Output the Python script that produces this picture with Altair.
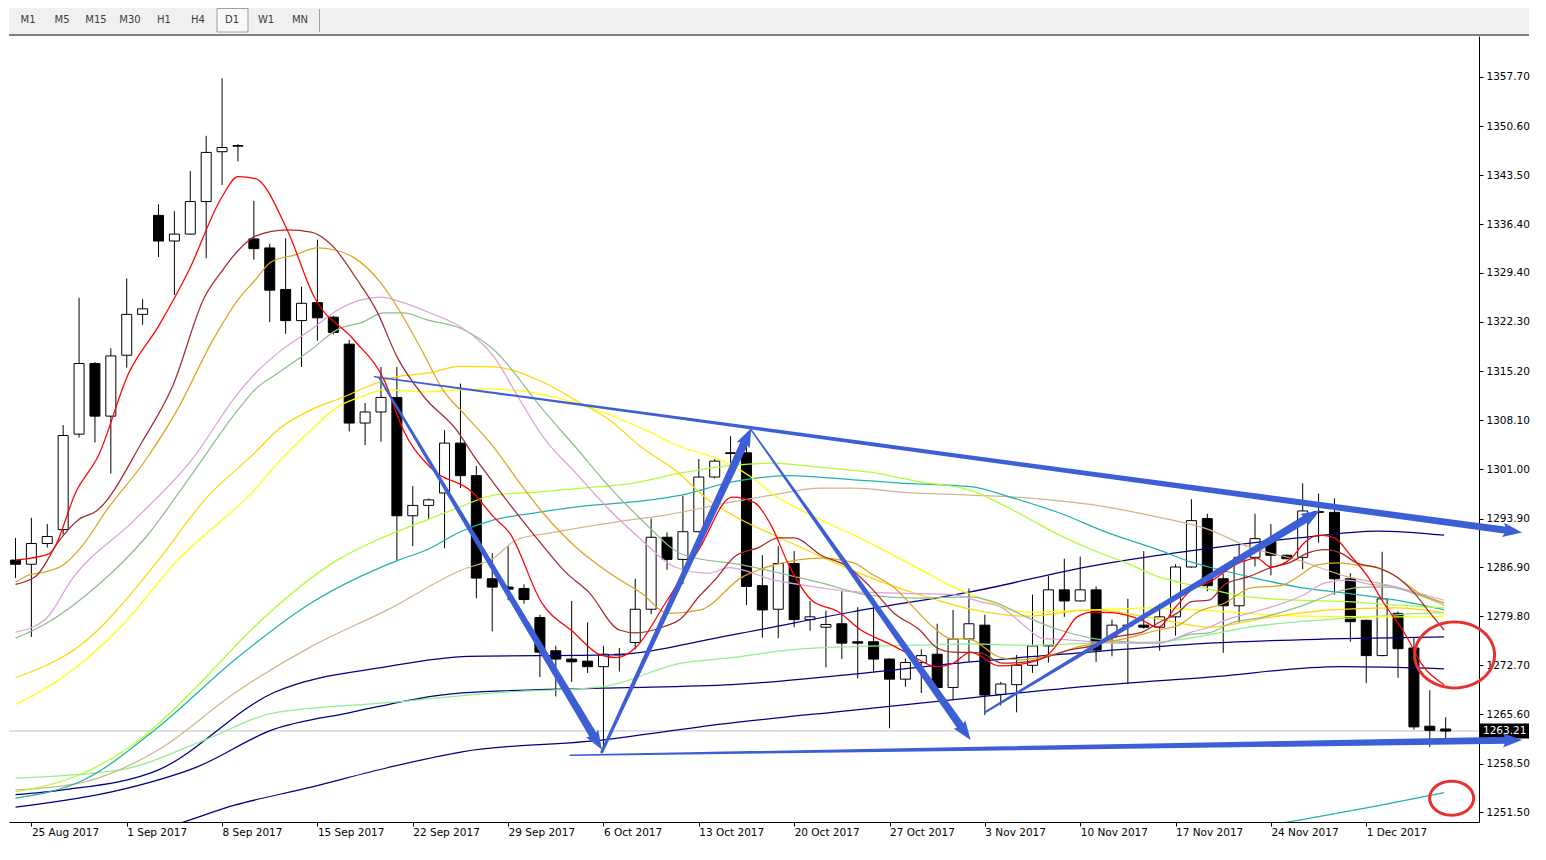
import json
import math
import altair as alt
import pandas as pd

# ---------------- data: daily candles (bar index 0..90) ----------------
opens = [1287.9, 1287.3, 1290.3, 1292.3, 1306.1, 1316.3, 1308.7, 1317.5, 1323.4, 1337.7,
         1334.0, 1335.0, 1339.7, 1346.9, 1347.8, 1334.3, 1333.0, 1327.0, 1322.5, 1325.1,
         1323.0, 1319.1, 1307.7, 1309.3, 1311.4, 1294.3, 1295.8, 1297.6, 1304.8, 1300.1,
         1285.2, 1284.0, 1283.8, 1279.6, 1274.8, 1273.6, 1273.3, 1272.5, 1274.3, 1276.0,
         1280.8, 1291.2, 1288.0, 1292.0, 1299.9, 1303.4, 1303.4, 1284.2, 1280.8, 1287.4,
         1279.3, 1278.2, 1278.7, 1276.1, 1276.1, 1273.6, 1270.7, 1273.1, 1274.3, 1269.5,
         1276.5, 1278.5, 1268.5, 1269.9, 1272.7, 1275.5, 1283.6, 1282.0, 1283.6, 1276.8,
         1278.4, 1278.5, 1278.2, 1279.7, 1286.9, 1293.9, 1285.2, 1281.3, 1288.3, 1290.7,
         1288.6, 1288.3, 1294.9, 1294.8, 1285.2, 1279.2, 1274.1, 1280.2, 1275.2, 1263.9,
         1263.5]
highs = [1291.1, 1294.0, 1293.1, 1307.4, 1325.8, 1316.5, 1318.5, 1328.6, 1325.6, 1339.3,
         1338.3, 1344.1, 1349.2, 1357.5, 1348.0, 1339.8, 1333.6, 1334.4, 1327.4, 1334.2,
         1323.2, 1319.7, 1310.6, 1315.8, 1315.8, 1298.6, 1296.8, 1306.7, 1313.4, 1301.5,
         1288.9, 1289.9, 1284.4, 1280.0, 1275.5, 1282.0, 1278.9, 1275.5, 1275.2, 1285.2,
         1293.9, 1291.9, 1297.2, 1302.5, 1302.5, 1305.8, 1304.5, 1288.6, 1289.9, 1289.2,
         1282.0, 1280.6, 1283.4, 1281.1, 1282.4, 1273.7, 1273.7, 1275.0, 1278.7, 1280.7,
         1283.8, 1280.0, 1270.3, 1274.2, 1282.9, 1285.6, 1288.1, 1288.4, 1284.1, 1279.3,
         1282.3, 1289.2, 1281.6, 1287.3, 1296.7, 1294.6, 1285.9, 1290.1, 1294.6, 1293.1,
         1288.7, 1299.0, 1297.5, 1296.8, 1286.0, 1279.3, 1289.1, 1280.5, 1276.8, 1269.1,
         1265.2]
lows = [1285.3, 1276.8, 1289.7, 1291.6, 1305.6, 1304.9, 1300.4, 1315.7, 1321.9, 1331.7,
        1326.2, 1334.9, 1331.5, 1342.1, 1345.5, 1331.3, 1322.3, 1320.6, 1315.8, 1319.6,
        1320.5, 1306.5, 1304.5, 1305.0, 1287.9, 1289.9, 1293.8, 1289.6, 1298.3, 1282.4,
        1277.6, 1282.1, 1281.6, 1271.0, 1268.2, 1270.3, 1271.6, 1260.5, 1271.8, 1275.0,
        1280.1, 1286.5, 1284.4, 1291.9, 1299.7, 1301.9, 1281.4, 1276.7, 1276.6, 1278.2,
        1277.7, 1272.4, 1273.6, 1270.8, 1271.6, 1263.6, 1269.6, 1268.7, 1269.4, 1267.7,
        1273.2, 1265.5, 1266.9, 1265.9, 1271.6, 1273.1, 1279.7, 1281.9, 1273.2, 1274.0,
        1270.0, 1278.0, 1274.8, 1277.0, 1286.8, 1283.4, 1274.5, 1278.9, 1287.0, 1285.7,
        1288.0, 1286.6, 1290.4, 1282.9, 1276.1, 1270.1, 1274.0, 1270.9, 1263.4, 1260.9,
        1262.2]
closes = [1287.3, 1290.3, 1291.3, 1305.9, 1316.3, 1308.7, 1317.4, 1323.4, 1324.2, 1334.0,
          1335.0, 1339.7, 1346.8, 1347.5, 1347.7, 1332.9, 1326.9, 1322.5, 1325.0, 1322.9,
          1320.8, 1307.7, 1309.3, 1311.4, 1294.3, 1295.8, 1296.6, 1304.8, 1300.1, 1285.3,
          1284.0, 1283.7, 1282.2, 1274.6, 1273.6, 1273.2, 1272.5, 1274.3, 1274.2, 1280.8,
          1291.2, 1288.0, 1292.0, 1299.9, 1302.2, 1303.3, 1284.1, 1280.7, 1287.4, 1279.3,
          1279.7, 1278.6, 1275.9, 1275.9, 1273.6, 1270.7, 1273.1, 1274.1, 1269.5, 1276.5,
          1278.7, 1268.4, 1270.0, 1272.7, 1275.5, 1283.6, 1282.0, 1283.6, 1274.9, 1278.5,
          1278.5, 1278.2, 1279.7, 1286.9, 1293.6, 1284.2, 1281.3, 1288.3, 1291.0, 1288.6,
          1288.1, 1295.0, 1294.8, 1285.2, 1279.0, 1274.1, 1282.3, 1275.1, 1263.8, 1263.3,
          1263.2]

week_labels = ["25 Aug 2017", "1 Sep 2017", "8 Sep 2017", "15 Sep 2017", "22 Sep 2017",
               "29 Sep 2017", "6 Oct 2017", "13 Oct 2017", "20 Oct 2017", "27 Oct 2017",
               "3 Nov 2017", "10 Nov 2017", "17 Nov 2017", "24 Nov 2017", "1 Dec 2017"]
price_ticks = [1251.50, 1258.50, 1265.60, 1272.70, 1279.80, 1286.90, 1293.90, 1301.00,
               1308.10, 1315.20, 1322.30, 1329.40, 1336.40, 1343.50, 1350.60, 1357.70]
bid_price = 1263.21
timeframes = ["M1", "M5", "M15", "M30", "H1", "H4", "D1", "W1", "MN"]

# ---------------- moving-average lines ----------------
red_b = [0, 2.1, 3.9, 5.2, 7.1, 9, 10.9, 13, 14, 15.1, 17.1, 18.8, 21.3, 23.2, 24.4, 26.1, 28.8,
         30.1, 31.1, 33.1, 35.1, 36.8, 37.8, 39, 40.9, 43, 45.1, 46.5, 47.6, 48.6, 50.1, 51.8,
         53.2, 54.9, 56.1, 58, 59, 60.1, 61.9, 64, 65.1, 65.9, 66.8, 67.8, 69, 70.9, 71.9, 73,
         74, 75.1, 77.1, 78.1, 79, 80.3, 81.1, 82.1, 83, 84, 85.1, 86.1, 87.4, 88.6, 89.9]
red_p = [1287.9, 1288.8, 1298.2, 1302.9, 1314.8, 1321.7, 1329.7, 1340.4, 1343.3, 1343.0, 1335.6,
         1325.9, 1319.7, 1313.9, 1306.7, 1301.3, 1297.6, 1294.1, 1291.8, 1281.8, 1277.5, 1274.2,
         1273.8, 1275.2, 1281.7, 1289.4, 1297.0, 1296.2, 1292.7, 1287.5, 1282.1, 1280.4, 1277.8,
         1275.9, 1274.5, 1272.5, 1273.0, 1274.6, 1272.6, 1273.2, 1274.5, 1276.8, 1279.7, 1280.4,
         1280.3, 1279.2, 1278.2, 1281.1, 1283.6, 1284.7, 1287.6, 1288.2, 1286.9, 1288.2, 1290.4,
         1291.5, 1291.1, 1288.6, 1285.5, 1281.7, 1277.4, 1272.5, 1269.9]
brown_b = [0, 1.3, 2.75, 4, 5.1, 8, 9.9, 11.9, 13, 14, 15.1, 17.1, 18.6, 19.9, 21.5, 22.75, 24,
           25.7, 27.75, 29, 30.1, 33, 34.6, 36.1, 38, 39, 40.7, 41.9, 43, 44, 45.25, 46.75, 48,
           49, 50.7, 52.4, 53.8, 55.25, 56.9, 58, 59, 60.7, 62.1, 63.6, 64.9, 66.3, 67.75, 69.25,
           70.9, 71.9, 73.2, 74, 75.1, 76.1, 77.6, 79, 80.25, 81.3, 82.4, 83.4, 84.4, 85.7, 86.9,
           88, 89, 89.9]
brown_p = [1284.4, 1285.6, 1290.7, 1293.8, 1295.0, 1305.1, 1313.1, 1325.9, 1329.7, 1332.6,
           1334.7, 1335.6, 1335.3, 1333.4, 1328.4, 1323.8, 1317.3, 1311.5, 1306.7, 1302.4,
           1299.0, 1290.5, 1286.2, 1283.2, 1277.8, 1277.4, 1278.2, 1279.5, 1282.6, 1285.0,
           1288.4, 1289.7, 1291.1, 1291.1, 1288.6, 1286.9, 1284.0, 1280.3, 1277.8, 1275.2,
           1274.6, 1274.5, 1273.0, 1273.2, 1273.9, 1274.9, 1275.5, 1276.8, 1277.5, 1278.8,
           1280.4, 1281.9, 1282.1, 1284.4, 1285.5, 1286.8, 1287.6, 1288.9, 1289.4, 1288.9,
           1287.5, 1286.8, 1285.5, 1283.2, 1280.3, 1277.8]
orange_b = [0, 0.7, 1.9, 3, 4.25, 5.7, 8.2, 10.25, 12.4, 14, 15.1, 16.1, 17.6, 19, 20.1, 21.3, 23,
            24.25, 25.5, 26.9, 28.4, 30.1, 31.9, 33.2, 35.25, 37.4, 39.4, 41.1, 43.1, 45.7,
            47.75, 50.7, 52.75, 53.8, 55.25, 56.5, 57.75, 58.8, 60.1, 61.9,
            63.2, 64.4, 65.7, 66.75, 68.2, 69.9, 71.9, 73.2, 74.4, 76.1, 77.75, 79.6, 80.7, 81.9,
            83.2, 84.4, 85.7, 86.9, 88.2, 89.9]
orange_p = [1284.7, 1285.6, 1286.2, 1287.2, 1290.1, 1295.0, 1302.4, 1309.9, 1319.6, 1325.5,
            1328.4, 1331.0, 1332.0, 1333.0, 1332.7, 1331.6, 1327.9, 1323.6, 1318.5, 1312.5,
            1308.6, 1304.2, 1298.5, 1294.7, 1289.8, 1286.0, 1283.1, 1280.2, 1280.7,
            1285.4, 1287.2, 1288.2, 1287.5, 1286.0, 1284.0, 1281.1,
            1278.2, 1276.6, 1276.4, 1273.9, 1273.5, 1273.8, 1274.5, 1275.3, 1275.9, 1276.6,
            1277.8, 1278.5, 1280.4, 1281.7, 1283.9, 1284.2, 1285.5, 1287.2, 1287.5, 1287.2,
            1286.8, 1285.5, 1283.3, 1281.7]
plum_b = [0, 1.9, 3.6, 7.4, 11.1, 14, 15.1, 16.5, 18.6, 20.25, 21.75, 23, 24.25, 26.1, 28, 30.1,
          31.75, 33.2, 35.25, 37.4, 39.4, 41.5, 43.6, 44.9, 47.75, 50.7, 52.75, 55.9, 59,
          60.7, 62.1, 63.6, 64.6, 66.1, 67.75, 69.9, 71.9, 74, 75.1, 76.1, 77.75, 79.4, 81.1,
          82.4, 83.8, 85.25, 86.9, 88.6, 89.9]
plum_p = [1277.5, 1279.4, 1285.3, 1293.5, 1302.4, 1312.0, 1314.9, 1317.8, 1321.2, 1324.0, 1325.5,
          1325.9, 1325.2, 1323.6, 1321.6, 1317.3, 1311.0, 1305.7, 1300.5, 1295.1, 1290.8, 1286.9,
          1286.0, 1286.8, 1285.0, 1283.9, 1283.3, 1283.1, 1282.9, 1281.9, 1281.0,
          1278.2, 1276.6, 1276.4, 1276.1, 1275.9, 1275.9, 1277.5, 1278.2, 1279.2, 1280.3, 1281.4,
          1282.9, 1284.6, 1285.0, 1284.4, 1284.0, 1282.9, 1282.1]
dsg_b = [0, 1.9, 5.25, 8.2, 11.1, 14, 15.1, 16.5, 18.6, 20.25, 21.75, 23.2, 24.4, 25.9, 28, 30.1,
         33.2, 35.25, 37.4, 39.4, 42.1, 45.7, 50.7, 53.8, 56.9, 60.1,
         61.5, 63.6, 65.7, 67.75, 69.9, 71.9, 74, 75.1, 76.5, 78.6, 80.7, 82.4, 83.6, 84.9, 86.5,
         88, 89.9]
dsg_p = [1276.6, 1278.7, 1284.4, 1291.2, 1300.3, 1309.6, 1312.6, 1314.9, 1318.3, 1321.2, 1322.2,
         1323.6, 1323.6, 1322.6, 1321.4, 1318.3, 1309.6, 1304.2, 1298.4, 1293.7, 1288.6, 1287.2,
         1284.6, 1282.8, 1282.4, 1282.6, 1281.9, 1279.7,
         1277.8, 1276.6, 1276.1, 1275.9, 1277.2, 1277.4, 1278.8, 1279.7, 1281.1, 1282.6, 1283.6,
         1284.0, 1284.0, 1283.1, 1281.7]
gold_b = [0, 4.25, 9, 11.9, 15.1, 16.5, 18.6, 20.7, 22.4, 24, 25.9, 28, 30.1, 33.2, 35.25, 37.4,
          39.4, 41.5, 43.6, 45.7, 47.75, 50.7, 53.2, 58, 60.1, 63.6, 67.75, 71.9, 75.1, 78.6,
          82.75, 86.9, 89.9]
gold_p = [1270.9, 1275.9, 1287.9, 1296.6, 1303.5, 1306.7, 1309.6, 1311.5, 1313.2, 1314.4, 1314.9,
          1315.9, 1315.8, 1313.6, 1311.0, 1308.1, 1304.2, 1300.9, 1296.6, 1293.7, 1291.5, 1288.4,
          1285.9, 1282.1, 1280.8, 1279.8, 1280.7, 1279.4, 1278.2, 1279.5, 1280.7, 1281.0, 1280.3]
yellow_b = [0, 3, 6.6, 10.2, 15.1, 16.5, 18.6, 20.25, 21.75, 23.2, 25.9, 28, 30.1, 33.2, 37.4,
            39.9, 41.9, 44, 46.1, 47.75, 50.7, 52.75, 56.9, 59, 60.1, 63.6, 67.75, 71.9, 75.1,
            80.7, 86.9, 89.9]
yellow_p = [1267.0, 1271.0, 1278.2, 1287.9, 1298.2, 1301.9, 1306.7, 1310.0, 1311.5, 1312.5, 1312.2,
            1312.5, 1312.6, 1311.8, 1308.9, 1306.4, 1304.2, 1302.7, 1300.2, 1297.3, 1293.7,
            1291.5, 1286.6, 1284.0, 1283.0, 1280.4, 1280.7, 1281.0, 1280.6, 1279.8, 1279.7, 1279.7]
gy_b = [0, 4.25, 7.8, 11.4, 15, 20.25, 22.75, 25.9, 28, 30.1, 32.6, 35.7, 38.8, 41.9, 45.1, 47.6,
        50.7, 53.8, 56.9, 60.1, 61.5, 63.6, 65.7, 67.75, 69.9, 71.9, 74, 77.6, 80.7, 83.8, 86.9, 89.9]
gy_p = [1254.4, 1257.1, 1261.9, 1269.6, 1278.2, 1287.9, 1290.8, 1293.7, 1295.6, 1297.3, 1297.7,
        1298.3, 1299.0, 1300.5, 1301.6, 1301.9, 1301.3, 1300.6, 1299.2, 1298.0, 1296.6, 1294.1,
        1291.5, 1289.4, 1287.5, 1285.5, 1284.3, 1282.6, 1282.1, 1281.9, 1281.4, 1281.0]
teal_b = [0, 4.25, 9, 13.8, 18.6, 24.1, 25.9, 28, 30.1, 32.6, 35.7, 38.8, 41.9, 45.1, 48.6, 52.75,
          55.9, 60.1, 62.6, 65.7, 68.8, 71.9, 74, 75.1, 77.6, 80.7, 83.8, 86.9, 89.9]
teal_p = [1253.5, 1256.1, 1263.8, 1273.5, 1281.7, 1287.9, 1289.4, 1292.0, 1293.7, 1294.7, 1295.7,
          1296.3, 1297.3, 1299.2, 1300.1, 1299.5, 1299.0, 1298.5, 1297.0, 1294.7, 1291.8, 1289.4,
          1287.6, 1286.9, 1285.5, 1284.0, 1283.1, 1282.1, 1280.7]
tan_b = [0, 4.25, 9, 13.8, 18.6, 23.4, 28.1, 30.1, 31.5, 33.6, 37.75, 40.9, 45.1, 47.6, 50.7, 52.75,
         55.9, 60.1, 63.6, 67.75, 71.9, 75.1, 77.6, 80.7, 83.8, 86.9, 89.9]
tan_p = [1254.7, 1255.8, 1260.5, 1268.7, 1275.4, 1280.7, 1286.5, 1288.2, 1290.8, 1291.8, 1293.4,
         1294.4, 1296.3, 1297.3, 1298.3, 1298.3, 1297.7, 1297.3, 1296.9, 1295.9, 1294.1, 1292.3,
         1289.8, 1287.9, 1285.5, 1284.0, 1281.4]
lg_b = [0, 6.6, 11.9, 16.2, 23.4, 30.6, 36.9, 41.9, 45.1, 48.6, 52.75, 56.9, 60.1, 63.6, 67.75,
        71.9, 75.1, 77.6, 80.7, 83.8, 86.9, 89.9]
lg_p = [1256.4, 1257.6, 1261.9, 1265.8, 1267.3, 1268.8, 1269.6, 1273.0, 1273.8, 1274.9, 1275.4,
        1275.6, 1275.8, 1275.6, 1275.9, 1276.1, 1277.1, 1278.2, 1279.0, 1279.5, 1280.0, 1280.3]
navy_a_b = [0, 3, 9, 16.2, 23.4, 28.5, 37.4, 45.1, 52.6, 60.1, 67.6, 75.1, 80.7, 85.7, 89.9]
navy_a_p = [1254.0, 1254.7, 1257.6, 1268.7, 1272.5, 1274.0, 1274.2, 1277.1, 1280.4, 1283.3, 1287.0,
            1289.6, 1291.1, 1292.1, 1291.5]
navy_b_b = [0, 6.6, 11.4, 16.2, 20.9, 28.1, 36.9, 45.1, 52.6, 60.1, 67.6, 75.1, 82.6, 89.9]
navy_b_p = [1252.2, 1254.7, 1258.0, 1263.4, 1265.8, 1268.7, 1269.4, 1269.9, 1271.4, 1273.2, 1274.6,
            1275.9, 1276.5, 1276.8]
navy_c_b = [8.2, 9, 13.8, 18.6, 23.4, 28.1, 36.9, 44.4, 52.6, 60.1, 67.6, 75.1, 83.4, 89.9]
navy_c_p = [1248.6, 1249.0, 1252.5, 1255.1, 1257.9, 1260.2, 1261.9, 1264.2, 1266.2, 1268.0, 1269.7,
            1271.0, 1272.5, 1272.2]
slow_b = [76.3, 80.7, 85.7, 89.9]
slow_p = [1248.6, 1250.3, 1252.4, 1254.3]

# ---------------- hand-drawn objects (data coordinates) ----------------
trend_start_bar = [22.6, 34.9, 22.9, 36.9, 46.3, 61.0]
trend_start_price = [1314.4, 1259.7, 1314.2, 1260.2, 1306.7, 1265.9]
trend_end_bar = [94.8, 94.8, 36.9, 46.3, 60.1, 82.1]
trend_end_price = [1291.9, 1261.9, 1260.5, 1307.0, 1261.9, 1295.1]
circle_bar = [90.56, 90.375]
circle_price = [1274.2, 1253.5]

# ---------------- styles ----------------
FONT = "DejaVu Sans"
W, H = 1470, 786
TB_H = 28
BAR_PX = 16.0
X_MIN = -0.09375
X_MAX = X_MIN + W / BAR_PX
Y_MIN, Y_MAX = 1250.06, 1363.62
PX_PER_PRICE = H / (Y_MAX - Y_MIN)
BLUE = "#3D5FD6"
RED = "#E53333"
trend_w0 = [1.5, 1.5, 2.0, 3.0, 1.5, 2.0]
trend_w1 = [7.0, 7.0, 8.0, 8.0, 8.0, 8.0]
circle_rx = [40, 22]
circle_ry = [33, 17]
HEAD_R = 12.0

ma_specs = [
    ("navyA", navy_a_b, navy_a_p, "#000080"),
    ("navyB", navy_b_b, navy_b_p, "#000080"),
    ("navyC", navy_c_b, navy_c_p, "#000080"),
    ("slow", slow_b, slow_p, "#20B2AA"),
    ("lightgreen", lg_b, lg_p, "#90EE90"),
    ("tan", tan_b, tan_p, "#D2B48C"),
    ("teal", teal_b, teal_p, "#20B2AA"),
    ("greenyellow", gy_b, gy_p, "#ADFF2F"),
    ("yellow", yellow_b, yellow_p, "#FFFF00"),
    ("gold", gold_b, gold_p, "#FFD700"),
    ("dsg", dsg_b, dsg_p, "#8FBC8F"),
    ("plum", plum_b, plum_p, "#DDA0DD"),
    ("orange", orange_b, orange_p, "#DAA520"),
    ("brown", brown_b, brown_p, "#A52A2A"),
    ("red", red_b, red_p, "#FF0000"),
]

# ---------------- tables ----------------
assert len(opens) == len(highs) == len(lows) == len(closes)
candles = pd.DataFrame({"bar": list(range(len(opens))), "open": opens, "high": highs,
                        "low": lows, "close": closes})

ma_rows = []
for name, bs, ps, _ in ma_specs:
    assert len(bs) == len(ps), name
    for b, p in zip(bs, ps):
        ma_rows.append({"series": name, "bar": b, "price": p})
ma_df = pd.DataFrame(ma_rows)
ma_names = [s[0] for s in ma_specs]
ma_colors = [s[3] for s in ma_specs]

trail_rows, head_rows = [], []
for i in range(len(trend_start_bar)):
    b0, p0 = trend_start_bar[i], trend_start_price[i]
    b1, p1 = trend_end_bar[i], trend_end_price[i]
    dx = (b1 - b0) * BAR_PX
    dy = -(p1 - p0) * PX_PER_PRICE
    L = math.hypot(dx, dy)
    ux, uy = dx / L, dy / L
    ang = math.degrees(math.atan2(ux, -uy)) % 360
    be = b1 - 1.2 * HEAD_R * ux / BAR_PX
    pe = p1 + 1.2 * HEAD_R * uy / PX_PER_PRICE
    trail_rows.append({"name": i, "k": 0, "bar": b0, "price": p0, "w": trend_w0[i]})
    trail_rows.append({"name": i, "k": 1, "bar": be, "price": pe, "w": trend_w1[i]})
    head_rows.append({"bar": b1 - HEAD_R * ux / BAR_PX, "price": p1 + HEAD_R * uy / PX_PER_PRICE,
                      "angle": ang})
trail_df = pd.DataFrame(trail_rows)
head_df = pd.DataFrame(head_rows)

ARROW_PATH = "M0,-1L0.6,0.6L0,0.3L-0.6,0.6Z"


def ellipse_path(ratio, n=56):
    pts = []
    for k in range(n):
        t = 2 * math.pi * k / n
        pts.append(f"{math.cos(t):.4f},{ratio * math.sin(t):.4f}")
    return "M" + "L".join(pts) + "Z"


xs = alt.Scale(domain=[X_MIN, X_MAX], nice=False, zero=False)
ys = alt.Scale(domain=[Y_MIN, Y_MAX], nice=False, zero=False)

label_bars = [1 + 6 * i for i in range(len(week_labels))]
x_axis = alt.Axis(values=label_bars,
                  labelExpr=json.dumps(week_labels) + "[round((datum.value - 1) / 6)]",
                  tickSize=4, labelAlign="left", labelPadding=1,
                  labelOverlap=False, labelFlush=False, labelBound=False,
                  grid=False, title=None, domainColor="#000000", tickColor="#000000",
                  labelColor="#000000", labelFont=FONT, labelFontSize=10.5)
y_axis = alt.Axis(orient="right", values=price_ticks, format=".2f", tickSize=4,
                  labelPadding=3, labelOverlap=False, labelFlush=False, grid=False,
                  title=None, domainColor="#000000", tickColor="#000000",
                  labelColor="#000000", labelFont=FONT, labelFontSize=10.5)


def X(field):
    return alt.X(field, scale=xs, axis=x_axis)


def Y(field):
    return alt.Y(field, scale=ys, axis=y_axis)


bid_df = pd.DataFrame({"price": [bid_price], "label": [f"{bid_price:.2f}"]})

bid_line = alt.Chart(bid_df).mark_rule(color="#C0C0C0", strokeWidth=1).encode(
    y=Y("price:Q"))

wicks = alt.Chart(candles).mark_rule(color="#000000", strokeWidth=1, clip=True).encode(
    x=X("bar:Q"), y=Y("low:Q"), y2="high:Q")

bodies = alt.Chart(candles).mark_bar(size=10, stroke="#000000", strokeWidth=1,
                                     clip=True).encode(
    x=X("bar:Q"), y=Y("open:Q"), y2="close:Q",
    fill=alt.condition("datum.close >= datum.open", alt.value("#FFFFFF"),
                       alt.value("#000000")))

ma_lines = alt.Chart(ma_df).mark_line(strokeWidth=1.25, interpolate="monotone",
                                      clip=True).encode(
    x=X("bar:Q"), y=Y("price:Q"),
    color=alt.Color("series:N", scale=alt.Scale(domain=ma_names, range=ma_colors),
                    legend=None))

trails = alt.Chart(trail_df).mark_trail(color=BLUE, clip=False).encode(
    x=X("bar:Q"), y=Y("price:Q"),
    size=alt.Size("w:Q", scale=None, legend=None),
    detail="name:N",
    order="k:Q")

heads = alt.Chart(head_df).mark_point(shape=ARROW_PATH, filled=True, size=(2 * HEAD_R) ** 2,
                                      color=BLUE, opacity=1, clip=False).encode(
    x=X("bar:Q"), y=Y("price:Q"),
    angle=alt.Angle("angle:Q", scale=None))

circle_layers = []
for i in range(len(circle_bar)):
    cdf = pd.DataFrame({"bar": [circle_bar[i]], "price": [circle_price[i]]})
    circle_layers.append(
        alt.Chart(cdf).mark_point(shape=ellipse_path(circle_ry[i] / circle_rx[i]),
                                  filled=False, size=(2 * circle_rx[i]) ** 2, stroke=RED,
                                  strokeWidth=3, opacity=1, clip=False).encode(
            x=X("bar:Q"), y=Y("price:Q")))

half_box = 7.5 / PX_PER_PRICE
bid_box = alt.Chart(bid_df).transform_calculate(
    top=f"datum.price + {half_box}", bot=f"datum.price - {half_box}"
).mark_rect(color="#000000", clip=False).encode(
    x=alt.value(W), x2=alt.value(W + 50),
    y=Y("top:Q"), y2="bot:Q")
bid_text = alt.Chart(bid_df).mark_text(align="left", baseline="middle", color="#FFFFFF",
                                       font=FONT, fontSize=10.5, clip=False).encode(
    x=alt.value(W + 4), y=Y("price:Q"), text="label:N")

main = alt.layer(bid_line, wicks, bodies, ma_lines, bid_box, bid_text, trails, heads,
                 *circle_layers).properties(width=W, height=H)

# ---------------- toolbar ----------------
tb_df = pd.DataFrame({"label": timeframes, "i": list(range(len(timeframes)))})
one = pd.DataFrame({"a": [0]})
tb_x = alt.Scale(domain=[0, W], nice=False, zero=False)
tb_bg = alt.Chart(one).mark_rect(color="#F0F0F0", clip=False).encode(
    x=alt.value(0), x2=alt.value(W + 50), y=alt.value(0), y2=alt.value(TB_H - 2))
tb_border = alt.Chart(one).mark_rect(color="#808080", clip=False).encode(
    x=alt.value(0), x2=alt.value(W + 50), y=alt.value(TB_H - 2), y2=alt.value(TB_H))
tb_sel = alt.Chart(tb_df).transform_filter("datum.label == 'D1'").transform_calculate(
    x0="4 + 34 * datum.i", x1="35 + 34 * datum.i"
).mark_rect(fill="#F8F8F8", stroke="#A0A0A0", strokeWidth=1).encode(
    x=alt.X("x0:Q", scale=tb_x, axis=None), x2="x1:Q", y=alt.value(0.5),
    y2=alt.value(TB_H - 4))
tb_sep = alt.Chart(one).mark_rule(color="#A0A0A0").encode(
    x=alt.value(310.5), y=alt.value(1), y2=alt.value(TB_H - 4))
tb_text = alt.Chart(tb_df).transform_calculate(xc="19 + 34 * datum.i").mark_text(
    font=FONT, fontSize=10, color="#3C3C3C", baseline="middle").encode(
    x=alt.X("xc:Q", scale=tb_x, axis=None), y=alt.value(12), text="label:N")
toolbar = alt.layer(tb_bg, tb_border, tb_sel, tb_sep, tb_text).properties(width=W, height=TB_H)

chart = alt.vconcat(toolbar, main, spacing=0).properties(
    padding={"left": 0, "top": 0, "right": 0, "bottom": 0}, background="#FFFFFF"
).configure(font=FONT).configure_view(stroke=None)

chart.save("out.html", embed_options={"renderer": "svg", "actions": False})
